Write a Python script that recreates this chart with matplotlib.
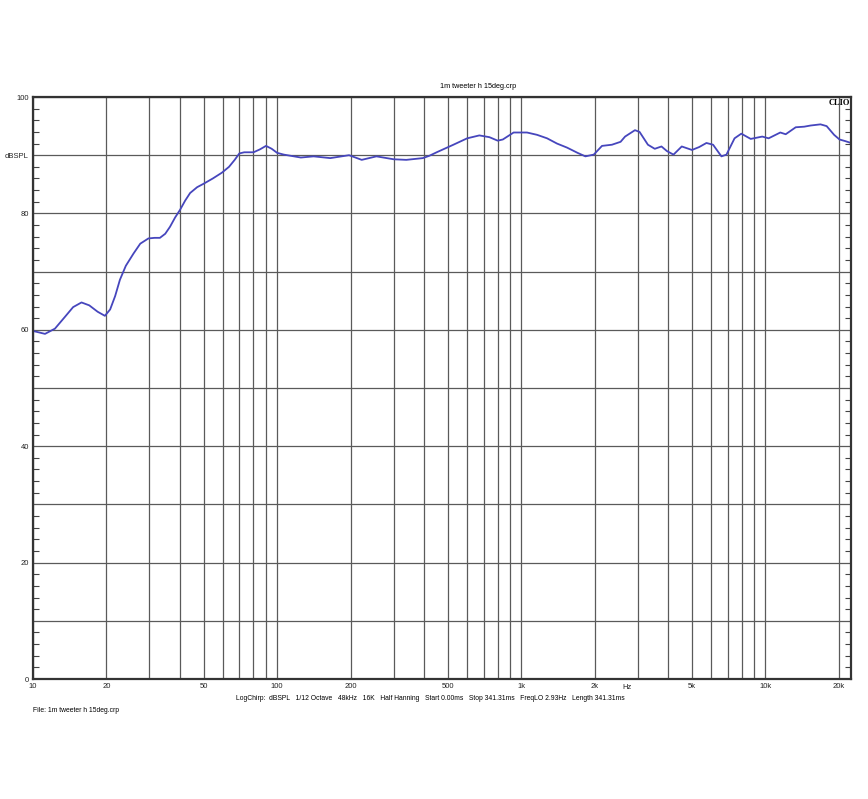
import matplotlib
matplotlib.use("Agg")
import matplotlib.pyplot as plt

plt.rcParams["font.family"] = ["Liberation Sans", "DejaVu Sans"]

# response
freq = [10, 11.2, 12.3, 13.5, 14.6, 15.8, 17.0, 18.4, 19.7, 20.7, 21.7, 22.7,
        24.0, 25.8, 27.5, 29.7, 31.5, 33.1, 34.8, 36.4, 38.2, 40, 42, 44, 47,
        50, 54.5, 59.4, 63.5, 67, 70, 73.3, 80, 85, 90, 95, 100, 106.5, 125,
        141, 165, 197, 222, 255, 300, 338, 395, 420, 450, 527, 600, 673, 740,
        800, 840, 930, 1055, 1160, 1275, 1400, 1540, 1700, 1830, 1980, 2140,
        2350, 2550, 2660, 2920, 3050, 3300, 3520, 3750, 3950, 4200, 4540, 5000,
        5350, 5730, 6100, 6600, 6920, 7470, 7960, 8700, 9700, 10300, 11500,
        12100, 13300, 14400, 15300, 16800, 17800, 19100, 20100, 21300, 22400]
spl = [59.8, 59.3, 60.2, 62.2, 63.9, 64.7, 64.2, 63.1, 62.4, 63.5, 65.8, 68.6,
       71.0, 73.1, 74.8, 75.7, 75.8, 75.8, 76.5, 77.7, 79.3, 80.6, 82.2, 83.5,
       84.5, 85.1, 86.0, 87.0, 88.0, 89.2, 90.3, 90.5, 90.5, 91.0, 91.6, 91.1,
       90.4, 90.1, 89.6, 89.8, 89.5, 90.0, 89.2, 89.8, 89.3, 89.2, 89.5, 89.9,
       90.5, 91.8, 92.9, 93.4, 93.1, 92.5, 92.7, 93.9, 93.9, 93.5, 92.9, 92.0,
       91.3, 90.4, 89.8, 90.1, 91.6, 91.8, 92.3, 93.2, 94.3, 94.0, 91.8, 91.1,
       91.5, 90.7, 90.1, 91.5, 90.9, 91.4, 92.1, 91.8, 89.8, 90.1, 92.9, 93.7,
       92.8, 93.2, 92.9, 93.9, 93.6, 94.8, 94.9, 95.1, 95.3, 95.0, 93.5, 92.7,
       92.4, 92.1]

x_labels = {10: "10", 20: "20", 50: "50", 100: "100", 200: "200", 500: "500",
            1000: "1k", 2000: "2k", 5000: "5k", 10000: "10k", 20000: "20k"}
y_labels = {0: "0", 20: "20", 40: "40", 60: "60", 80: "80", 90: "dBSPL", 100: "100"}

title = "1m tweeter h 15deg.crp"
info = ("LogChirp:  dBSPL   1/12 Octave   48kHz   16K   Half Hanning   "
        "Start 0.00ms   Stop 341.31ms   FreqLO 2.93Hz   Length 341.31ms")
filename = "File: 1m tweeter h 15deg.crp"

fig = plt.figure(figsize=(8.68, 7.99), dpi=100)
ax = fig.add_axes([33 / 868, 1 - 679 / 799, 818 / 868, 582 / 799])

ax.plot(freq, spl, color="#4646bd", lw=1.3)

ax.set_xscale("log")
ax.set_xlim(10, 22400)
ax.set_ylim(0, 100)

xt = [m * d for d in (10, 100, 1000, 10000) for m in range(1, 10) if m * d <= 22400]
ax.set_xticks(xt)
ax.set_xticklabels([x_labels.get(v, "") for v in xt])
ax.xaxis.set_minor_locator(matplotlib.ticker.NullLocator())
yt = list(range(0, 101, 10))
ax.set_yticks(yt)
ax.set_yticklabels([y_labels.get(v, "") for v in yt])
ax.set_yticks(range(0, 101, 2), minor=True)

ax.grid(True, which="major", color="#5a5a5a", lw=0.9)
ax.tick_params(which="major", length=0, labelsize=5.5, colors="#222222", pad=3)
ax.tick_params(axis="y", which="minor", direction="in", length=4, width=0.8,
               color="#444444", left=True, right=True)
for s in ax.spines.values():
    s.set_color("#333333")
    s.set_linewidth(1.6)

ax.text(0.726, -0.009, "Hz", transform=ax.transAxes, ha="center", va="top",
        fontsize=5.5, color="#222222")
ax.text(0.999, 0.996, "CLIO", transform=ax.transAxes, ha="right", va="top",
        fontsize=6, fontweight="bold", family="Liberation Serif")

fig.text(478 / 868, 1 - 86 / 799, title, ha="center", va="center", fontsize=5.2)
fig.text(430 / 868, 1 - 698 / 799, info, ha="center", va="center", fontsize=4.9)
fig.text(33 / 868, 1 - 711 / 799, filename, ha="left", va="center", fontsize=4.9)

fig.savefig("out.png", dpi=100, facecolor="white")
